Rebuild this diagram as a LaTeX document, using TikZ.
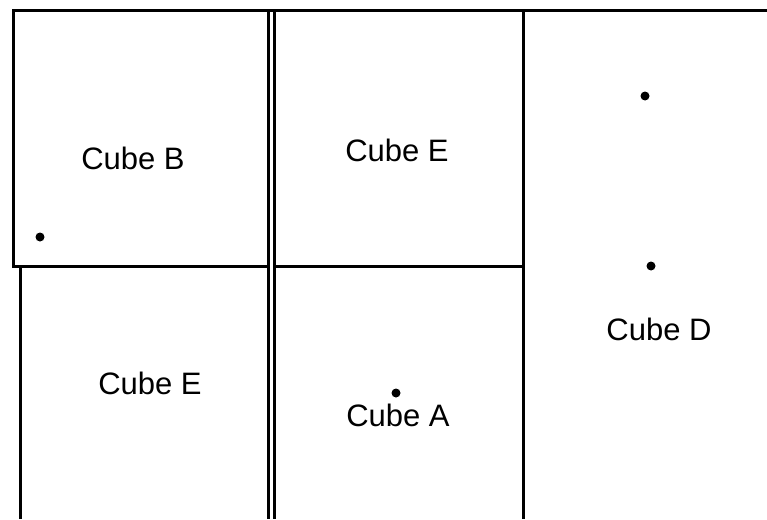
\documentclass[tikz,border=0pt]{standalone}
\usepackage{fontspec}
\setmainfont{Liberation Sans}
\begin{document}
\begin{tikzpicture}[x=1pt,y=-1pt,line width=3pt,
    cubelabel/.style={font=\fontsize{31}{36}\selectfont},
    marker/.style={fill=black}]
        \useasboundingbox (0,0) rectangle (767,519);
        \draw (767,11) -- (13,11) -- (13,266) -- (268,266);
        \draw (20,266) -- (20,519);
        \draw (268,11) -- (268,519);
        \draw (274,11) -- (274,519);
        \draw (274,266) -- (523,266);
        \draw (523,11) -- (523,519);
        \node [cubelabel] (cubeB) at (133,158) {Cube B};
        \node [cubelabel] (cubeEtop) at (397,150) {Cube E};
        \node [cubelabel] (cubeEbot) at (150,383) {Cube E};
        \node [cubelabel] (cubeA) at (398,415) {Cube A};
        \node [cubelabel] (cubeD) at (659,329) {Cube D};
        \fill [marker] (40,237) circle (4.5);
        \fill [marker] (645,96) circle (4.5);
        \fill [marker] (651,266) circle (4.5);
        \fill [marker] (396,393) circle (4.5);
    \end{tikzpicture}
\end{document}
